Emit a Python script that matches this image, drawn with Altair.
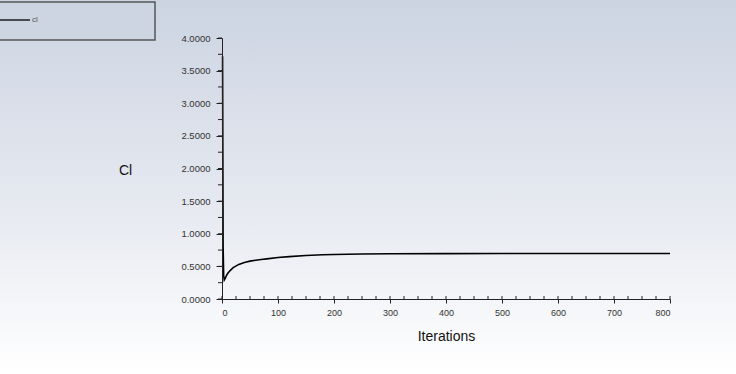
import altair as alt
import pandas as pd

# ---- data ----
iterations = [1, 2, 3, 4, 6, 8, 10, 15, 20, 30, 40, 50, 60, 70, 80, 100, 120, 150,
              180, 200, 250, 300, 400, 500, 600, 700, 800]
cl_values = [3.72, 0.80, 0.36, 0.29, 0.32, 0.36, 0.39, 0.44, 0.48, 0.53, 0.56, 0.58,
             0.595, 0.605, 0.615, 0.635, 0.65, 0.667, 0.678, 0.683, 0.69, 0.694,
             0.696, 0.697, 0.697, 0.697, 0.697]
x_major = [0, 100, 200, 300, 400, 500, 600, 700, 800]
y_major = [0, 0.5, 1.0, 1.5, 2.0, 2.5, 3.0, 3.5, 4.0]
x_minor = [v * 25 for v in range(0, 33)]
y_minor = [v * 0.25 for v in range(0, 17)]
series_name = "cl"

W, H = 448, 261
PL, PT, PR, PB = 222, 38, 66, 75
FONT = "Liberation Sans"

df = pd.DataFrame({"Iterations": iterations, "Cl": cl_values})
one = pd.DataFrame({"a": [0]})

xscale = alt.Scale(domain=[0, 800], nice=False, zero=False)
yscale = alt.Scale(domain=[0, 4], nice=False, zero=False)

xaxis = alt.Axis(values=x_major, format="d", grid=False, domainColor="#222222",
                 tickColor="#222222", tickSize=4, labelFontSize=9, labelColor="#333333",
                 labelFont=FONT, labelPadding=5, labelOverlap=False, labelBound=False,
                 title="Iterations", titleFont=FONT,
                 titleFontSize=14, titleFontWeight="normal", titleColor="#111111",
                 titleBaseline="middle", titleY=37, zindex=1)
yaxis = alt.Axis(values=y_major, format=".4f", grid=False, domainColor="#222222",
                 tickColor="#222222", tickSize=6, labelFontSize=9.5, labelColor="#333333",
                 labelFont=FONT, labelPadding=6, labelOverlap=False, labelBound=False,
                 title="Cl", titleFont=FONT,
                 titleFontSize=14, titleFontWeight="normal", titleColor="#111111",
                 titleAngle=0, titleAlign="center", titleBaseline="middle",
                 titleX=-97, titleY=132, zindex=1)

bg = alt.Chart(one).mark_rect(
    fill=alt.LinearGradient(
        gradient="linear", x1=0, y1=0, x2=0, y2=1,
        stops=[alt.GradientStop(offset=0, color="#ccd4e2"),
               alt.GradientStop(offset=0.55, color="#e6e9f0"),
               alt.GradientStop(offset=1, color="#ffffff")]),
    stroke=None,
).encode(x=alt.value(-PL), x2=alt.value(W + PR), y=alt.value(-PT), y2=alt.value(H + PB))

legend_box = alt.Chart(one).mark_rect(
    fill="#ced5e2", stroke="#555555", strokeWidth=1.5
).encode(x=alt.value(-PL - 10), x2=alt.value(155 - PL), y=alt.value(2 - PT), y2=alt.value(40 - PT))

legend_line = alt.Chart(one).mark_rule(color="#000000", strokeWidth=1.3).encode(
    x=alt.value(-PL), x2=alt.value(30 - PL), y=alt.value(20 - PT))

legend_text = alt.Chart(pd.DataFrame({"t": [series_name]})).mark_text(
    align="left", baseline="middle", fontSize=8, color="#555555", font=FONT
).encode(x=alt.value(32 - PL), y=alt.value(20 - PT), text="t:N")

line = alt.Chart(df).mark_line(color="#000000", strokeWidth=1.6).encode(
    x=alt.X("Iterations:Q", scale=xscale, axis=xaxis),
    y=alt.Y("Cl:Q", scale=yscale, axis=yaxis),
)

xminor = alt.Chart(pd.DataFrame({"v": x_minor})).mark_rule(color="#222222", strokeWidth=1).encode(
    x=alt.X("v:Q", scale=xscale, axis=xaxis), y=alt.value(H - 3), y2=alt.value(H))

yminor = alt.Chart(pd.DataFrame({"v": y_minor})).mark_rule(color="#222222", strokeWidth=1).encode(
    y=alt.Y("v:Q", scale=yscale, axis=yaxis), x=alt.value(-4), x2=alt.value(0))

chart = alt.layer(bg, legend_box, legend_line, legend_text, line, xminor, yminor).properties(
    width=W, height=H,
    autosize=alt.AutoSizeParams(type="none"),
    padding={"left": PL, "top": PT, "right": PR, "bottom": PB},
).configure_view(stroke=None).configure(background="#ffffff")

chart.save("out.html", embed_options={"renderer": "svg", "actions": False})
